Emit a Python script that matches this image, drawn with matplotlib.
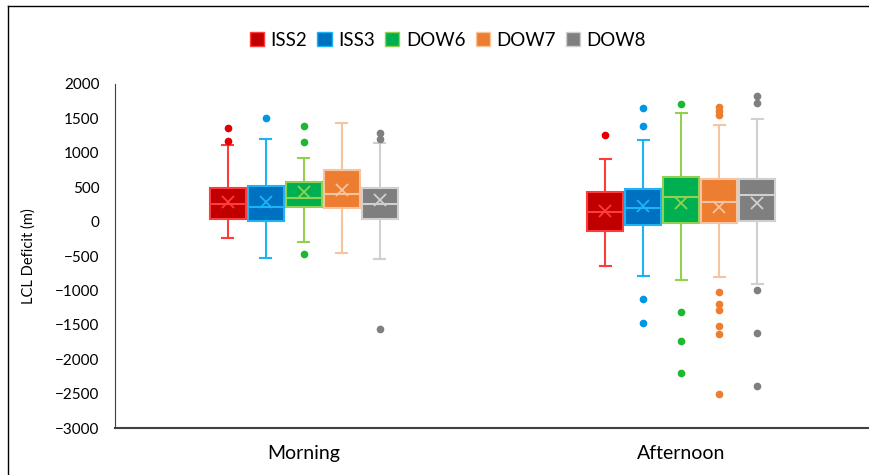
import matplotlib.pyplot as plt
from matplotlib.patches import Patch
from matplotlib.lines import Line2D

plt.rcParams['font.family'] = ['Lato', 'DejaVu Sans']

periods = ['Morning', 'Afternoon']
series = ['ISS2', 'ISS3', 'DOW6', 'DOW7', 'DOW8']

# one row per period, one column per series
q1 = [[38, 14, 207, 198, 38],
      [-132, -49, -25, -15, 9]]
med = [[260, 217, 348, 397, 256],
       [135, 198, 362, 280, 387]]
q3 = [[493, 517, 580, 750, 493],
      [425, 478, 648, 615, 615]]
means = [[290, 280, 425, 459, 309],
         [159, 227, 266, 217, 270]]
whis_lo = [[-234, -529, -292, -451, -544],
           [-641, -795, -844, -810, -912]]
whis_hi = [[1109, 1196, 929, 1438, 1138],
           [915, 1182, 1580, 1400, 1496]]
outliers = [
    [[1356, 1171], [1510], [1385, 1152, -471], [], [1293, 1205, -1566]],
    [[1259], [1651, 1390, -1129, -1474], [1714, -1309, -1739, -2200],
     [1661, 1608, 1554, -1019, -1198, -1285, -1513, -1630, -2502],
     [1821, 1724, -994, -1615, -2395]],
]

fills = ['#C00000', '#0070C0', '#00B050', '#ED7D31', '#7F7F7F']
edges = ['#FF3B3B', '#1CB4F2', '#92D050', '#F8C4A0', '#D0D0D0']
dots = ['#E00000', '#0096E6', '#1DB832', '#ED7D31', '#7F7F7F']

fig = plt.figure(figsize=(8.7, 4.75), dpi=100)
ax = fig.add_axes([115 / 870, 47 / 475, 1 - 115 / 870, 344 / 475])

step = 0.1007
for p in range(len(periods)):
    for s in range(len(series)):
        pos = p + 0.5 + (s - 2) * step
        stats = [dict(q1=q1[p][s], med=med[p][s], q3=q3[p][s], mean=means[p][s],
                      whislo=whis_lo[p][s], whishi=whis_hi[p][s], fliers=outliers[p][s])]
        ax.bxp(stats, positions=[pos], widths=0.095, patch_artist=True, showmeans=True,
               boxprops=dict(facecolor=fills[s], edgecolor=edges[s], linewidth=1.5),
               medianprops=dict(color=edges[s], linewidth=1.5),
               whiskerprops=dict(color=edges[s], linewidth=1.5),
               capprops=dict(color=edges[s], linewidth=1.5),
               capwidths=0.028,
               meanprops=dict(marker='x', markeredgecolor=edges[s], markersize=9,
                              markeredgewidth=1.3),
               flierprops=dict(marker='o', markerfacecolor=dots[s], markeredgecolor=dots[s],
                               markersize=4.5))

ax.set_xlim(0, 2)
ax.set_ylim(-3000, 2000)
ax.set_yticks(range(-3000, 2001, 500))
ax.set_xticks([0.5, 1.5])
ax.set_xticklabels(periods, fontsize=14)
ax.tick_params(axis='y', length=0, pad=11, labelsize=11)
ax.tick_params(axis='x', length=0, pad=12)
ax.set_ylabel('LCL Deficit (m)', fontsize=10.5, labelpad=14)
for side in ['top', 'right']:
    ax.spines[side].set_visible(False)
ax.spines['left'].set_color('#404040')
ax.spines['bottom'].set_color('#404040')
ax.spines['bottom'].set_linewidth(1.5)

handles = [Patch(facecolor=fills[i], edgecolor=edges[i], label=series[i])
           for i in range(len(series))]
fig.legend(handles=handles, loc='center', bbox_to_anchor=(448 / 870, 1 - 40 / 475),
           ncol=5, frameon=False, fontsize=13.5, handlelength=0.75, handleheight=0.75,
           handletextpad=0.35, columnspacing=0.55)

# outer chart border (top and left edges are visible)
fig.add_artist(Line2D([8 / 870, 1], [1 - 6 / 475] * 2, transform=fig.transFigure,
                      color='black', linewidth=1))
fig.add_artist(Line2D([8 / 870] * 2, [0, 1 - 6 / 475], transform=fig.transFigure,
                      color='black', linewidth=1))

fig.savefig('out.png', dpi=100)
